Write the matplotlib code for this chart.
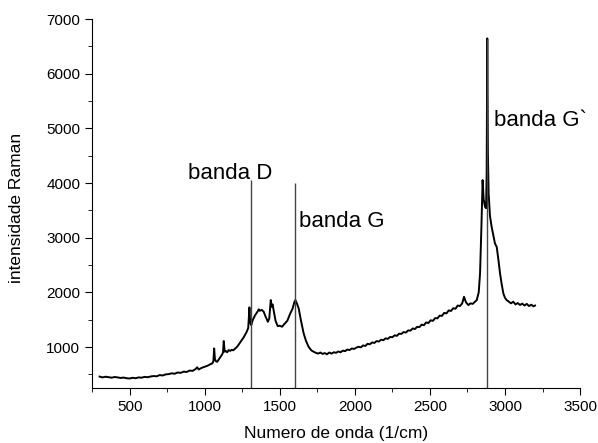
import matplotlib
matplotlib.use("Agg")
import matplotlib.pyplot as plt
from matplotlib.ticker import MultipleLocator

plt.rcParams["font.family"] = ["Liberation Sans", "DejaVu Sans"]

# espectro Raman (numero de onda, intensidade)
wavenumber = [300, 320, 340, 360, 380, 400, 420, 440, 460, 480, 500, 520, 540,
              560, 580, 600, 620, 640, 660, 680, 700, 720, 740, 760, 780, 800,
              820, 840, 860, 880, 900, 920, 940, 950, 960, 980, 1000, 1020, 1040,
              1050, 1058, 1063, 1068, 1075, 1083, 1095, 1105, 1115, 1122, 1127,
              1133, 1140, 1150, 1160, 1170, 1180, 1190, 1200, 1210, 1220, 1230,
              1240, 1250, 1260, 1270, 1280, 1290, 1298, 1303, 1310, 1320, 1335,
              1350, 1360, 1367, 1380, 1393, 1405, 1415, 1420, 1430, 1440, 1446,
              1452, 1460, 1472, 1486, 1500, 1515, 1530, 1550, 1570, 1585, 1597,
              1604, 1615, 1626, 1640, 1659, 1675, 1692, 1710, 1725, 1740, 1755,
              1770, 1785, 1800, 1814, 1830, 1845, 1860, 1875, 1890, 1905, 1920,
              1935, 1950, 1965, 1980, 1995, 2010, 2025, 2040, 2055, 2070, 2085,
              2100, 2115, 2130, 2145, 2160, 2175, 2190, 2205, 2220, 2235, 2250,
              2265, 2280, 2295, 2310, 2325, 2340, 2355, 2370, 2385, 2400, 2415,
              2430, 2445, 2460, 2475, 2490, 2505, 2520, 2535, 2550, 2565, 2580,
              2595, 2610, 2625, 2640, 2655, 2670, 2685, 2700, 2715, 2727, 2740,
              2756, 2770, 2785, 2800, 2812, 2825, 2834, 2843, 2851, 2858, 2867,
              2874, 2878, 2882, 2886, 2891, 2900, 2911, 2922, 2933, 2945, 2956,
              2967, 2978, 2989, 3000, 3011, 3025, 3040, 3055, 3070, 3085, 3100,
              3115, 3130, 3145, 3160, 3175, 3190, 3200]
intensity = [460, 445, 458, 450, 440, 452, 445, 435, 442, 430, 425, 438, 430,
             445, 440, 455, 448, 462, 470, 465, 488, 480, 500, 505, 520, 512,
             535, 528, 550, 545, 570, 565, 600, 630, 590, 620, 640, 660, 690,
             700, 740, 975, 780, 740, 730, 780, 820, 860, 900, 1110,
             915, 930, 905, 945, 930, 950, 940, 965, 990, 1020, 1060,
             1100, 1140, 1180, 1230, 1280, 1350, 1726, 1450, 1400, 1494, 1580,
             1640, 1690, 1664, 1680, 1646, 1560, 1500, 1463, 1520, 1860, 1737,
             1780, 1664, 1480, 1384, 1390, 1372, 1420, 1480, 1616, 1700, 1820,
             1860, 1790, 1708, 1500, 1250, 1110, 1005, 940, 915, 895, 880,
             900, 875, 890, 868, 900, 880, 905, 895, 920, 905, 935,
             925, 955, 945, 975, 965, 990, 1005, 995, 1030, 1020, 1060,
             1050, 1085, 1075, 1110, 1100, 1135, 1125, 1160, 1150, 1185, 1180,
             1215, 1205, 1245, 1240, 1275, 1265, 1305, 1300, 1340, 1330, 1370,
             1365, 1410, 1400, 1450, 1440, 1490, 1480, 1530, 1525, 1575, 1570,
             1625, 1615, 1670, 1660, 1710, 1700, 1760, 1750, 1800, 1920, 1820,
             1768, 1800, 1790, 1830, 1860, 2000, 2353, 3200, 4054, 3700, 3566,
             3540, 4200, 6646, 4600, 3811, 3400, 3200, 3050, 2897, 2830, 2600,
             2348, 2150, 1982, 1900, 1860, 1830, 1800, 1830, 1780, 1805, 1770,
             1795, 1760, 1790, 1750, 1775, 1745, 1760]

# linhas marcando as bandas: posicao, topo da linha, rotulo
band_pos = [1309, 1600, 2882]
band_top = [4050, 4010, 6640]
band_label = ["banda D", "banda G", "banda G`"]

fig = plt.figure(figsize=(5.98, 4.43), dpi=100)
ax = fig.add_axes([0.154, 0.124, 0.816, 0.833])

ax.plot(wavenumber, intensity, color="black", lw=1.4)
for x, top in zip(band_pos, band_top):
    ax.vlines(x, 250, top, color="#444444", lw=1.0)

ax.text(892, 4070, band_label[0], fontsize=16, ha="left", va="baseline")
ax.text(1630, 3195, band_label[1], fontsize=16, ha="left", va="baseline")
ax.text(2927, 5042, band_label[2], fontsize=16, ha="left", va="baseline")

ax.set_xlim(250, 3500)
ax.set_ylim(250, 7000)
ax.xaxis.set_major_locator(MultipleLocator(500))
ax.xaxis.set_minor_locator(MultipleLocator(250))
ax.yaxis.set_major_locator(MultipleLocator(1000))
ax.yaxis.set_minor_locator(MultipleLocator(500))
ax.set_yticks(range(1000, 7001, 1000))

ax.spines["top"].set_visible(False)
ax.spines["right"].set_visible(False)
ax.tick_params(which="major", direction="out", length=5, labelsize=11)
ax.tick_params(which="minor", direction="out", length=3)

ax.set_xlabel("Numero de onda (1/cm)", fontsize=12.5, labelpad=9)
ax.set_ylabel("intensidade Raman", fontsize=12.5)
ax.yaxis.set_label_coords(-0.139, 0.488)

fig.savefig("out.png", dpi=100)
